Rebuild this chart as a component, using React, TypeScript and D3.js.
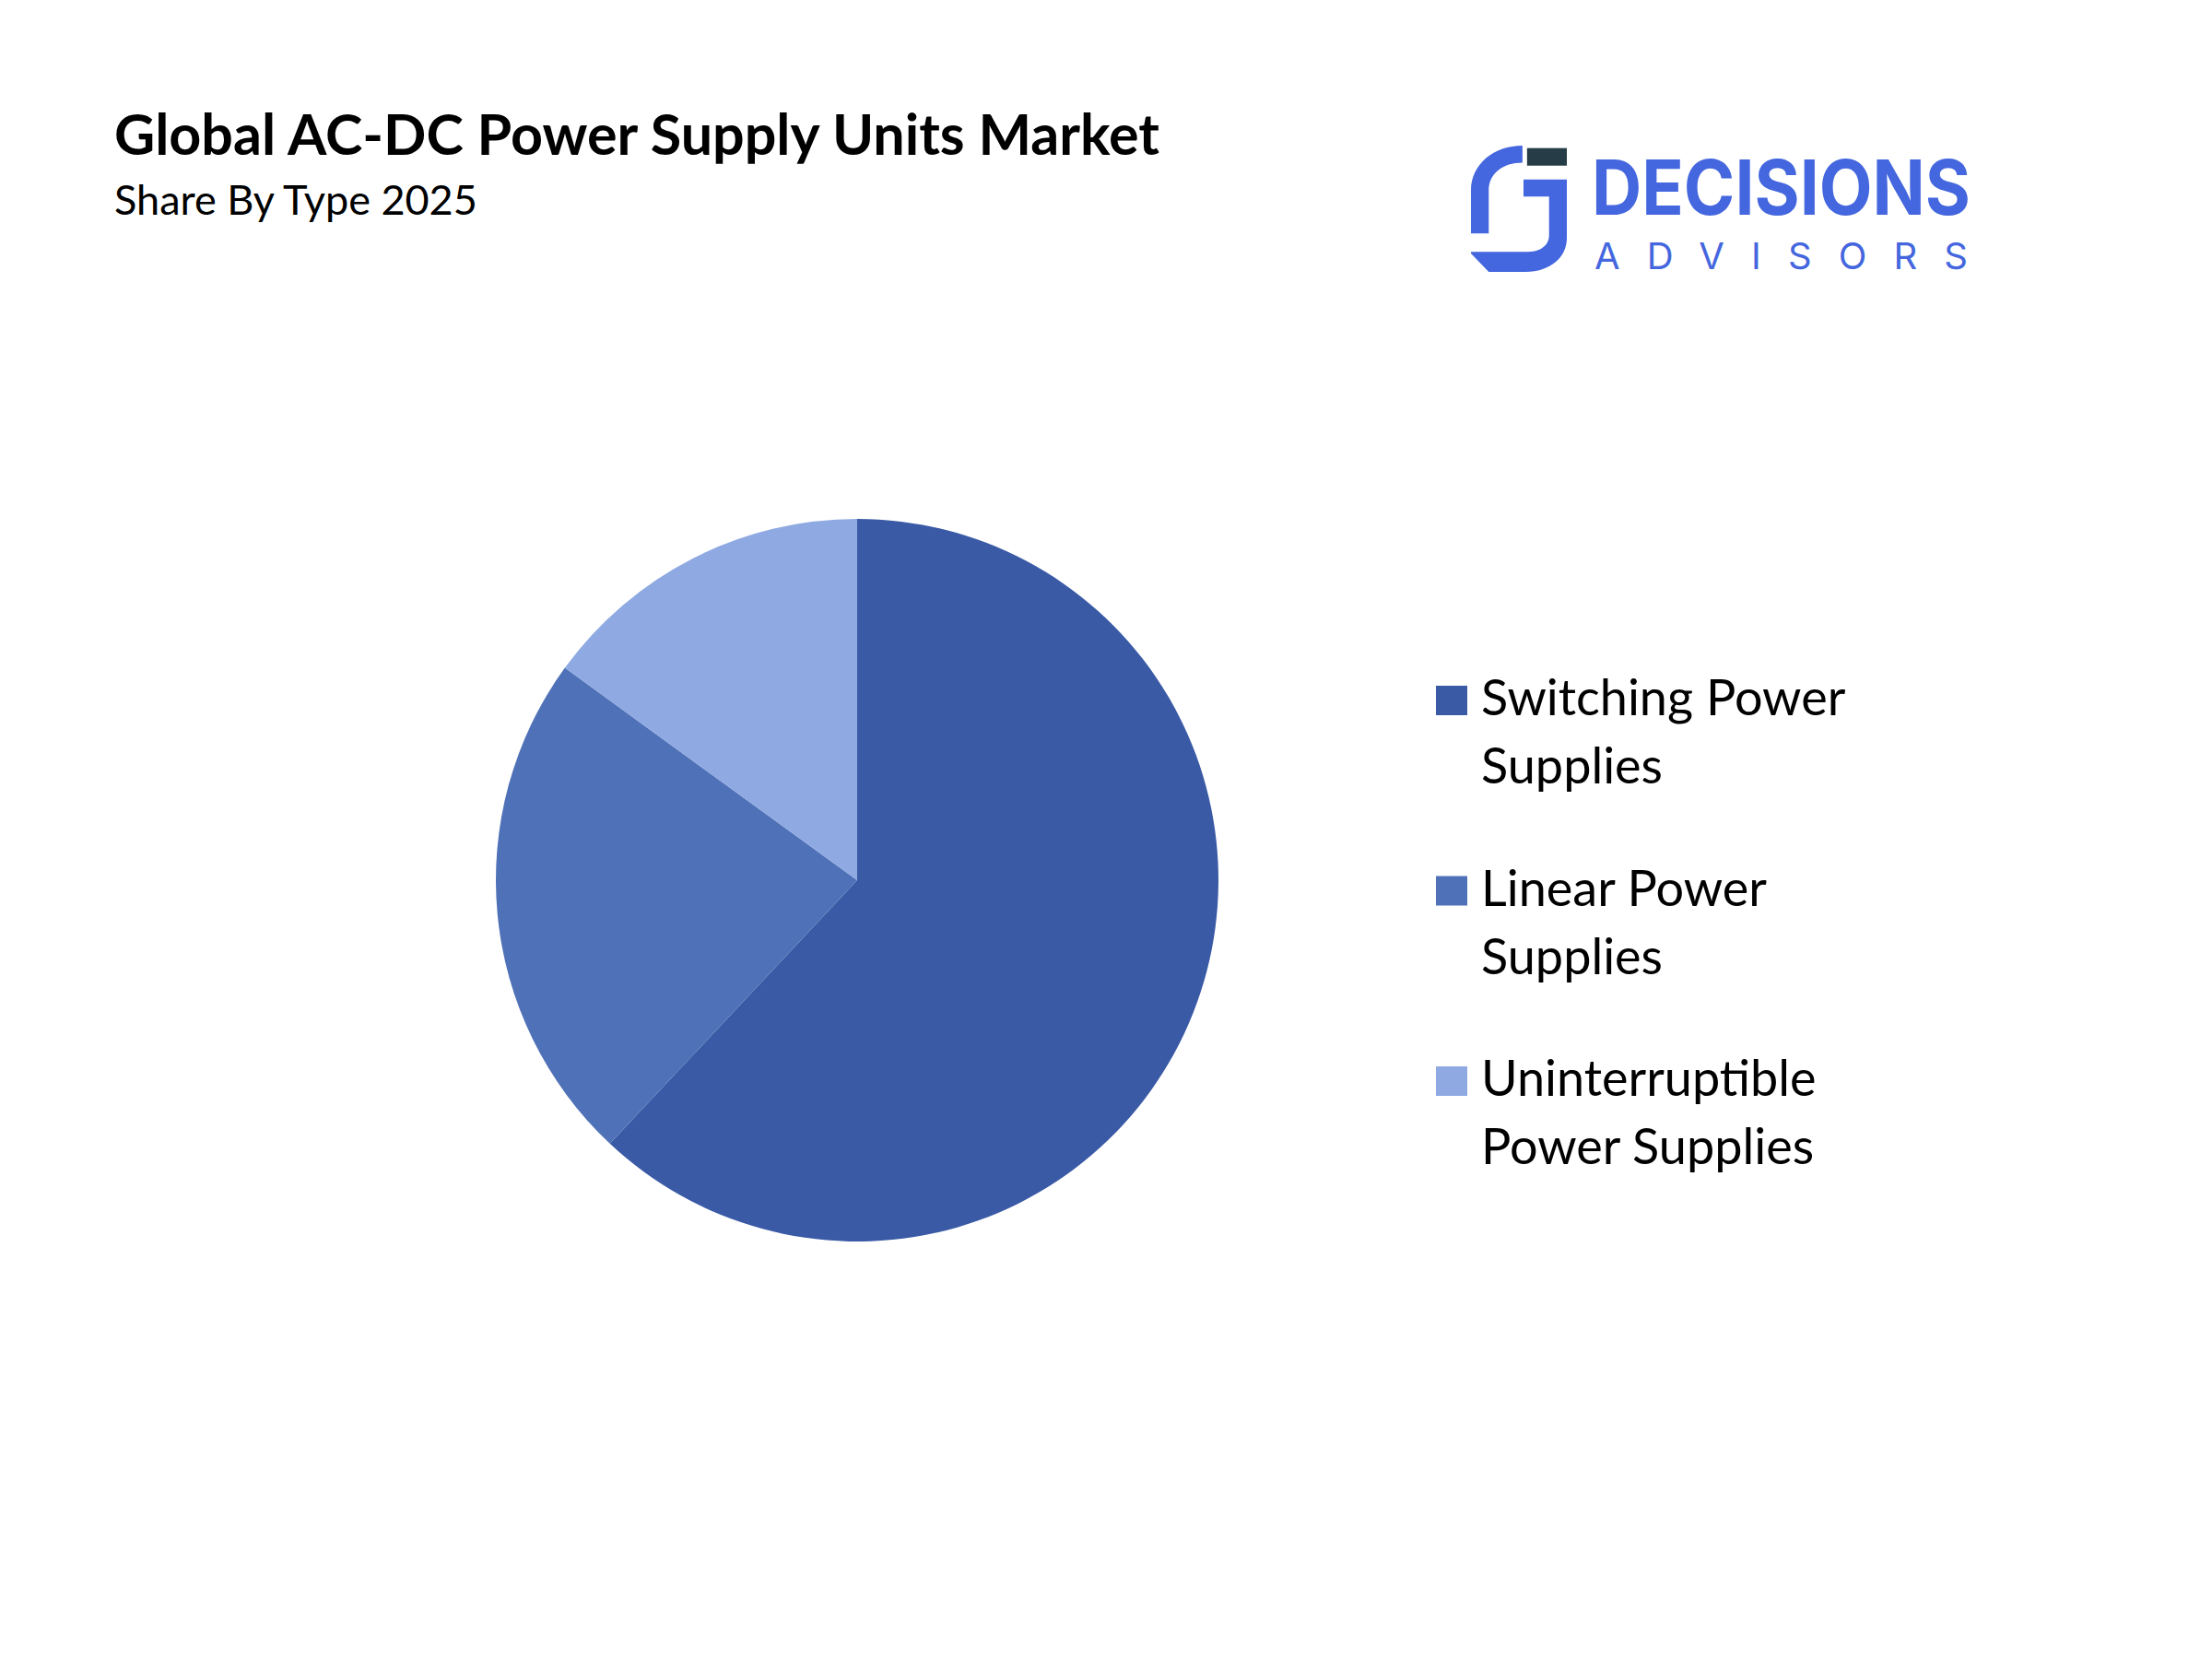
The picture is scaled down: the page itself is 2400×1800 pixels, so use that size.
import React, { useEffect, useRef } from 'react';
import * as d3 from 'd3';

const categories = ['Switching Power Supplies', 'Linear Power Supplies', 'Uninterruptible Power Supplies'];
const shares = [62, 23, 15];
const legendLines = [
  ['Switching Power', 'Supplies'],
  ['Linear Power', 'Supplies'],
  ['Uninterruptible', 'Power Supplies'],
];
const colors = ['#3a5aa6', '#4f71b7', '#8faae2'];

const title = 'Global AC-DC Power Supply Units Market';
const subtitle = 'Share By Type 2025';

const App: React.FC = () => {
  const svgRef = useRef<SVGSVGElement>(null);

  useEffect(() => {
    document.body.style.margin = '0';
    if (!svgRef.current) return;
    const svg = d3.select(svgRef.current);
    svg.selectAll('*').remove();

    const width = 2400;
    const height = 1800;
    svg.append('rect').attr('width', width).attr('height', height).attr('fill', '#ffffff');

    // Title block
    svg.append('text')
      .attr('x', 124).attr('y', 168)
      .attr('font-family', 'Lato, "Open Sans", sans-serif')
      .attr('font-weight', 700)
      .attr('font-size', 61)
      .attr('fill', '#000')
      .text(title);

    svg.append('text')
      .attr('x', 124).attr('y', 233)
      .attr('font-family', 'Lato, "Open Sans", sans-serif')
      .attr('font-size', 45)
      .attr('fill', '#000')
      .text(subtitle);

    // Logo
    const logo = svg.append('g');
    const sx = 104 / 270;
    const sy = 137 / 410;
    const icon = logo.append('g')
      .attr('transform', `translate(${1596 - 70 * sx},${158 - 80 * sy}) scale(${sx},${sy})`);
    const blue = '#4466de';
    // left bracket
    icon.append('path')
      .attr('d', 'M215,80 L215,135 C160,135 120,170 120,225 L120,365 L70,365 L70,225 C70,140 135,80 215,80 Z')
      .attr('fill', blue);
    // dark tab
    icon.append('rect').attr('x', 228).attr('y', 88).attr('width', 112).attr('height', 57).attr('fill', '#263d47');
    // J shape
    icon.append('path')
      .attr('d', 'M218,190 L340,190 L340,380 C340,445 290,490 225,490 L120,490 L70,430 L70,425 L225,425 C265,425 290,405 290,370 L290,245 L218,245 Z')
      .attr('fill', blue);

    logo.append('text')
      .attr('x', 1727).attr('y', 233)
      .attr('font-family', 'Inter, "Open Sans", sans-serif')
      .attr('font-weight', 700)
      .attr('font-size', 82)
      .attr('textLength', 411)
      .attr('lengthAdjust', 'spacingAndGlyphs')
      .attr('fill', blue)
      .text('DECISIONS');

    logo.append('text')
      .attr('x', 1730).attr('y', 292)
      .attr('font-family', 'Inter, "Open Sans", sans-serif')
      .attr('font-size', 40)
      .attr('textLength', 405)
      .attr('lengthAdjust', 'spacing')
      .attr('fill', blue)
      .text('ADVISORS');

    // Pie
    const cx = 930;
    const cy = 955;
    const radius = 392;
    const pie = d3.pie<number>().sort(null).value(d => d);
    const arc = d3.arc<d3.PieArcDatum<number>>().innerRadius(0).outerRadius(radius);

    svg.append('g')
      .attr('transform', `translate(${cx},${cy})`)
      .selectAll('path')
      .data(pie(shares))
      .enter()
      .append('path')
      .attr('d', arc)
      .attr('fill', (_, i) => colors[i]);

    // Legend
    const legendY = d3.scalePoint<string>()
      .domain(categories)
      .range([776, 1189]);

    const legend = svg.append('g');
    categories.forEach((c, i) => {
      const y = legendY(c)!;
      legend.append('rect')
        .attr('x', 1558).attr('y', y - 32)
        .attr('width', 34).attr('height', 32)
        .attr('fill', colors[i]);
      const t = legend.append('text')
        .attr('font-family', 'Lato, "Open Sans", sans-serif')
        .attr('font-size', 54)
        .attr('fill', '#000');
      legendLines[i].forEach((line, j) => {
        t.append('tspan').attr('x', 1607).attr('y', y + j * 74).text(line);
      });
    });
  }, []);

  return <svg ref={svgRef} width={2400} height={1800} style={{ display: 'block' }} />;
};

export default App;
